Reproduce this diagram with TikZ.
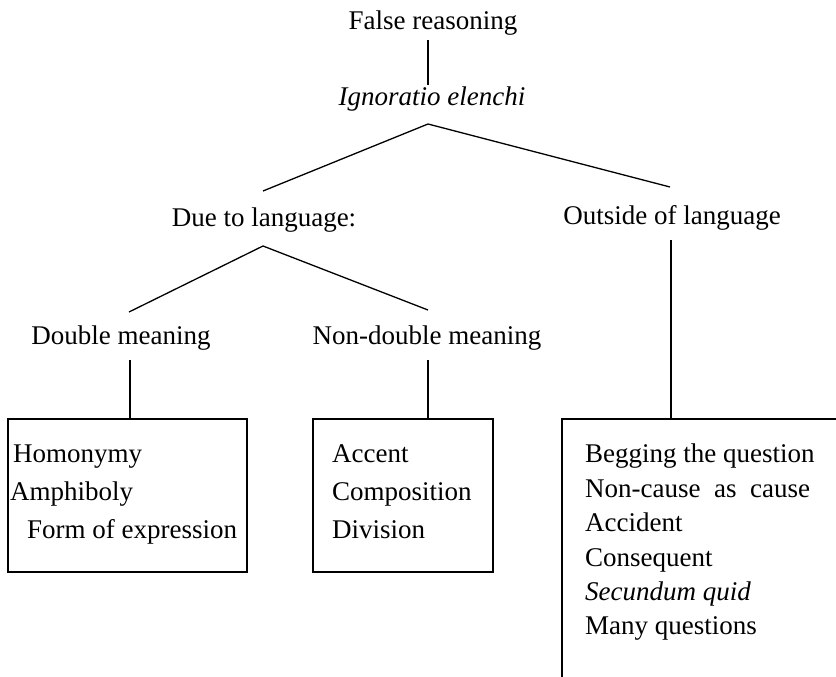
\documentclass[tikz,border=0pt]{standalone}
\usepackage{fontspec}
\setmainfont{Liberation Serif}
\begin{document}
\begin{tikzpicture}[x=1pt,y=-1pt,
  lbl/.style={inner sep=0pt,anchor=base,font=\fontsize{27}{30}\selectfont},
  item/.style={inner sep=0pt,anchor=base west,font=\fontsize{27}{30}\selectfont},
  ln/.style={line width=1.3pt,black}]
\useasboundingbox (0,0) rectangle (836,677);
\fill[white] (0,0) rectangle (836,677);
% labels
\node[lbl] (fr) at (433,30) {False reasoning};
\node[lbl] (ie) at (432,106) {\itshape Ignoratio elenchi};
\node[lbl] (dl) at (264,226) {Due to language:};
\node[lbl] (ol) at (672,224) {Outside of language};
\node[lbl] (dm) at (121,344) {Double meaning};
\node[lbl] (nd) at (427,344) {Non-double meaning};
% boxes
\draw[ln] (8,419) rectangle (247,572);
\draw[ln] (313,419) rectangle (493,572);
\draw[ln] (840,419) -- (562,419) -- (562,680);
\coordinate (b1) at (130,419);
\coordinate (b2) at (428,419);
\coordinate (b3) at (671,419);
% box texts
\node[item] (h1) at (13,462) {Homonymy};
\node[item] (h2) at (10,500) {Amphiboly};
\node[item] (h3) at (27,538) {Form of expression};
\node[item] (c1) at (332,462) {Accent};
\node[item] (c2) at (332,500) {Composition};
\node[item] (c3) at (332,538) {Division};
\node[item] (o1) at (585,462) {Begging the question};
\node[item] (o2) at (585,497) {Non-cause\ \ as\ \ cause};
\node[item] (o3) at (585,531) {Accident};
\node[item] (o4) at (585,566) {Consequent};
\node[item] (o5) at (585,600) {\itshape Secundum quid};
\node[item] (o6) at (585,634) {Many questions};
% coordinates
\coordinate (v1a) at (428,40);
\coordinate (v1b) at (428,85);
\coordinate (ap1) at (428,124);
\coordinate (l1) at (263,191);
\coordinate (r1) at (670,187);
\coordinate (ap2) at (263,246);
\coordinate (l2) at (129,312);
\coordinate (r2) at (428,310);
\coordinate (d1) at (130,360);
\coordinate (d2) at (428,360);
\coordinate (d3) at (671,240);
% connectors
\draw[ln] (v1a) -- (v1b);
\draw[ln] (l1) -- (ap1) -- (r1);
\draw[ln] (l2) -- (ap2) -- (r2);
\draw[ln] (d1) -- (b1);
\draw[ln] (d2) -- (b2);
\draw[ln] (d3) -- (b3);
\end{tikzpicture}
\end{document}
